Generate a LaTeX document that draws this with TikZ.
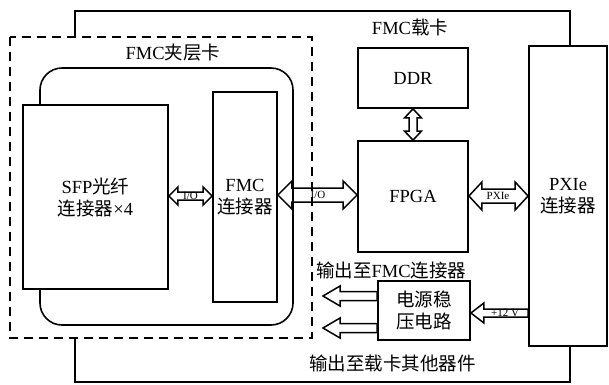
\documentclass[tikz,border=0pt]{standalone}
\usepackage{fontspec}
\setmainfont{Liberation Serif}
\newfontfamily\cjk{Noto Sans CJK SC}
\usetikzlibrary{calc}
\newcommand\zh[1]{{\cjk #1}}
% horizontal double arrow: #1 left anchor, #2 right anchor, #3 y, #4 shaft half, #5 head half, #6 head length
\newcommand\HDA[6]{%
  \draw[fat] let \p1=(#1), \p2=(#2) in
    (\x1,#3) -- (\x1+#6,#3-#5) -- (\x1+#6,#3-#4) -- (\x2-#6,#3-#4) -- (\x2-#6,#3-#5)
    -- (\x2,#3) -- (\x2-#6,#3+#5) -- (\x2-#6,#3+#4) -- (\x1+#6,#3+#4) -- (\x1+#6,#3+#5) -- cycle;}
% left-pointing arrow: tip at #1, tail at #2
\newcommand\LA[6]{%
  \draw[fat] let \p1=(#1), \p2=(#2) in
    (\x1,#3) -- (\x1+#6,#3-#5) -- (\x1+#6,#3-#4) -- (\x2,#3-#4)
    -- (\x2,#3+#4) -- (\x1+#6,#3+#4) -- (\x1+#6,#3+#5) -- cycle;}
\begin{document}
\begin{tikzpicture}[x=1pt,y=-1pt,line join=miter,
  box/.style={draw, line width=1.8pt, fill=white, inner sep=0pt, align=center,
    font=\fontsize{18.5}{22}\selectfont},
  fat/.style={draw, line width=1.5pt, line join=miter},
  lbl/.style={font=\fontsize{18.5}{22}\selectfont, inner sep=0pt},
  small/.style={font=\fontsize{11}{13}\selectfont, inner sep=0pt},
  frame/.style={line width=1.8pt}]
\useasboundingbox (0,0) rectangle (609,384);

% FMC carrier outline
\draw[frame] (75,37) -- (75,11) -- (570,11) -- (570,46);
\draw[frame] (570,346) -- (570,382) -- (75,382) -- (75,338);
\node[lbl] (carrier) at (410,27) {FMC\zh{载卡}};

% mezzanine dashed box
\draw[line width=1.5pt, dash pattern=on 9pt off 6pt] (10,37) rectangle (312,338);
\node[lbl] (mezz) at (173,53) {FMC\zh{夹层卡}};
\draw[line width=1.6pt, rounded corners=22pt] (40,68) rectangle (293,325);

% boxes
\node[box, minimum width=145pt, minimum height=184pt] (sfp) at (95.5,197) {SFP\zh{光纤}\\\zh{连接器}×4};
\node[box, minimum width=64pt, minimum height=210pt] (fmcc) at (245,197) {FMC\\\zh{连接器}};
\node[box, minimum width=110pt, minimum height=60pt] (ddr) at (413,78) {DDR};
\node[box, minimum width=110pt, minimum height=111pt] (fpga) at (413,196.5) {FPGA};
\node[box, minimum width=78pt, minimum height=300pt] (pxie) at (568,196) {PXIe\\\zh{连接器}};
\node[box, minimum width=92pt, minimum height=59pt] (pwr) at (424,310.5) {\zh{电源稳}\\\zh{压电路}};

% arrows
\HDA{sfp.east}{fmcc.west}{196}{4}{9}{9}
\node[small] (io1) at (190.5,196) {I/O};
\HDA{fmcc.east}{fpga.west}{195}{7}{14}{14}
\node[small] (io2) at (318,195) {I/O};
\HDA{fpga.east}{pxie.west}{196}{7}{14}{13}
\node[small] (pxl) at (498,196) {PXIe};
\draw[fat] let \p1=(ddr.south), \p2=(fpga.north) in
  (\x1,\y1) -- (\x1+8.5,\y1-9) -- (\x1+4,\y1-9) -- (\x2+4,\y2+9) -- (\x2+8.5,\y2+9)
  -- (\x2,\y2) -- (\x2-8.5,\y2+9) -- (\x2-4,\y2+9) -- (\x1-4,\y1-9) -- (\x1-8.5,\y1-9) -- cycle;
\LA{pwr.east}{pxie.west}{313}{4}{10}{13}
\node[small] (v12) at (505,313) {+12 V};
\coordinate (out1) at (323,296);
\coordinate (out2) at (323,328);
\LA{out1}{pwr.west}{296}{4.5}{10}{17}
\LA{out2}{pwr.west}{328}{4.5}{10}{17}
\node[lbl, anchor=west] (o1) at (316,270) {\zh{输出至}FMC\zh{连接器}};
\node[lbl, anchor=west] (o2) at (309,363) {\zh{输出至载卡其他器件}};
\end{tikzpicture}
\end{document}
